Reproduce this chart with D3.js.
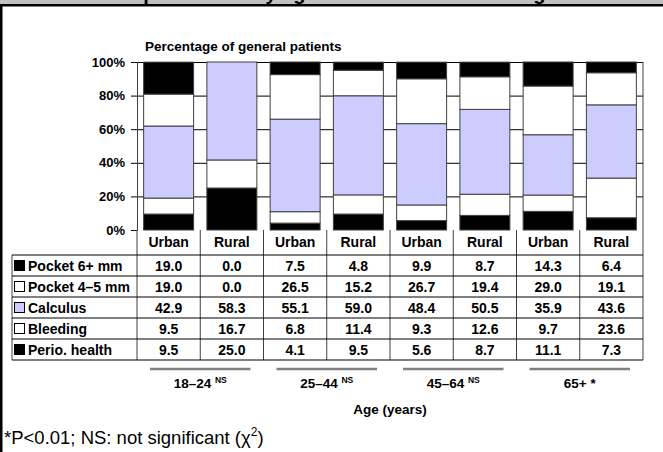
<!DOCTYPE html>
<html>
<head>
<meta charset="utf-8">
<script src="https://cdn.jsdelivr.net/npm/d3@7"></script>
<style>
  body { margin: 0; background: #fff; }
  text { font-family: 'Liberation Sans', Arial, sans-serif; }
</style>
</head>
<body>
<div id="chart"></div>
<script>
// categories
const settings = ['Urban', 'Rural', 'Urban', 'Rural', 'Urban', 'Rural', 'Urban', 'Rural']
const ageGroups = ['18–24', '25–44', '45–64', '65+']
const groupMarks = ['NS', 'NS', 'NS', '*']

// series values (%), one per bar
const pocket6 = [19.0, 0.0, 7.5, 4.8, 9.9, 8.7, 14.3, 6.4]
const pocket45 = [19.0, 0.0, 26.5, 15.2, 26.7, 19.4, 29.0, 19.1]
const calculus = [42.9, 58.3, 55.1, 59.0, 48.4, 50.5, 35.9, 43.6]
const bleeding = [9.5, 16.7, 6.8, 11.4, 9.3, 12.6, 9.7, 23.6]
const perioHealth = [9.5, 25.0, 4.1, 9.5, 5.6, 8.7, 11.1, 7.3]

const seriesNames = ['Pocket 6+ mm', 'Pocket 4–5 mm', 'Calculus', 'Bleeding', 'Perio. health']
const yTicks = [0, 20, 40, 60, 80, 100]

const W = 663
const H = 452
const plotLeft = 137
const plotRight = 643
const plotTop = 62
const plotBottom = 230
const headerBottom = 255
const rowH = 21
const tableLeft = 12

const svg = d3
  .select('#chart')
  .append('svg')
  .attr('width', W)
  .attr('height', H)

// frame: grey title band (title mostly cut off), black rule, left border
svg.append('defs')
  .append('clipPath')
  .attr('id', 'titleClip')
  .append('rect')
  .attr('x', 0).attr('y', 0).attr('width', W).attr('height', 4)

svg.append('rect')
  .attr('x', 0).attr('y', 0).attr('width', W).attr('height', 4)
  .attr('fill', '#c0c0c0')

svg.append('g')
  .attr('clip-path', 'url(#titleClip)')
  .append('text')
  .attr('x', 62)
  .attr('y', -0.5)
  .attr('font-size', 20)
  .attr('font-weight', 'bold')
  .text('Disease prevalence by age and urban–rural setting')

svg.append('rect')
  .attr('x', 0).attr('y', 4).attr('width', W).attr('height', 2.5)
  .attr('fill', '#000')
svg.append('rect')
  .attr('x', 0).attr('y', 4).attr('width', 2.5).attr('height', H - 4)
  .attr('fill', '#000')

// scales
const rows = settings.map(function(s, i) {
  return {
    key: i,
    setting: s,
    perio: perioHealth[i],
    bleeding: bleeding[i],
    calculus: calculus[i],
    pocket45: pocket45[i],
    pocket6: pocket6[i]
  }
})

const xScale = d3
  .scaleBand()
  .domain(rows.map(d => d.key))
  .range([plotLeft, plotRight])
  .paddingInner(0.21)
  .paddingOuter(0.105)

const step = xScale.step()
const colLeft = i => plotLeft + i * step

const yScale = d3
  .scaleLinear()
  .domain([0, 100])
  .range([plotBottom, plotTop])

const keys = ['perio', 'bleeding', 'calculus', 'pocket45', 'pocket6']
const fills = {
  perio: '#000000',
  bleeding: '#ffffff',
  calculus: '#ccccff',
  pocket45: '#ffffff',
  pocket6: '#000000'
}

// subtitle
svg.append('text')
  .attr('x', 145)
  .attr('y', 51)
  .attr('font-size', 13.5)
  .attr('font-weight', 'bold')
  .text('Percentage of general patients')

// gridlines
svg.append('g')
  .attr('transform', `translate(${plotLeft},0)`)
  .call(
    d3.axisLeft(yScale)
      .tickValues(yTicks.slice(1))
      .tickSize(-(plotRight - plotLeft))
      .tickFormat('')
  )
  .call(g => g.select('.domain').remove())
  .selectAll('line')
  .attr('stroke', '#000')

// stacked bars
const stacked = d3.stack().keys(keys)(rows)

svg.append('g')
  .selectAll('g')
  .data(stacked)
  .enter()
  .append('g')
  .attr('fill', d => fills[d.key])
  .selectAll('rect')
  .data(d => d)
  .enter()
  .append('rect')
  .attr('x', d => xScale(d.data.key))
  .attr('width', xScale.bandwidth())
  .attr('y', d => yScale(d[1]))
  .attr('height', d => yScale(d[0]) - yScale(d[1]))
  .attr('stroke', '#404040')
  .attr('stroke-width', 1)

// y axis
const yAxis = svg.append('g')
  .attr('transform', `translate(${plotLeft},0)`)
  .call(
    d3.axisLeft(yScale)
      .tickValues(yTicks)
      .tickSize(6)
      .tickSizeOuter(0)
      .tickPadding(6)
      .tickFormat(d => d + '%')
  )
yAxis.select('.domain').attr('stroke', '#404040')
yAxis.selectAll('line').attr('stroke', '#000')
yAxis.selectAll('text')
  .attr('font-size', 13)
  .attr('font-weight', 'bold')
  .attr('fill', '#000')
  .style('font-family', "'Liberation Sans', Arial, sans-serif")

// data table
const tableBottom = headerBottom + rowH * seriesNames.length
const table = svg.append('g')

// vertical lines
table.selectAll('.vline')
  .data(d3.range(settings.length + 1))
  .enter()
  .append('line')
  .attr('x1', i => colLeft(i))
  .attr('x2', i => colLeft(i))
  .attr('y1', i => (i === settings.length ? plotTop : plotBottom))
  .attr('y2', tableBottom)
  .attr('stroke', '#404040')

table.append('line')
  .attr('x1', tableLeft).attr('x2', tableLeft)
  .attr('y1', headerBottom).attr('y2', tableBottom)
  .attr('stroke', '#404040')

// horizontal lines
table.selectAll('.hline')
  .data(d3.range(seriesNames.length + 1))
  .enter()
  .append('line')
  .attr('x1', tableLeft)
  .attr('x2', plotRight)
  .attr('y1', i => headerBottom + i * rowH)
  .attr('y2', i => headerBottom + i * rowH)
  .attr('stroke', '#000')

// header
table.selectAll('.head')
  .data(settings)
  .enter()
  .append('text')
  .attr('x', (d, i) => colLeft(i) + step / 2)
  .attr('y', 247)
  .attr('text-anchor', 'middle')
  .attr('font-size', 14)
  .attr('font-weight', 'bold')
  .text(d => d)

const tableSeries = [
  { name: seriesNames[0], values: pocket6, fill: fills.pocket6 },
  { name: seriesNames[1], values: pocket45, fill: fills.pocket45 },
  { name: seriesNames[2], values: calculus, fill: fills.calculus },
  { name: seriesNames[3], values: bleeding, fill: fills.bleeding },
  { name: seriesNames[4], values: perioHealth, fill: fills.perio }
]

tableSeries.forEach(function(s, r) {
  const cy = headerBottom + r * rowH + rowH / 2
  table.append('rect')
    .attr('x', 14.5)
    .attr('y', cy - 5)
    .attr('width', 10)
    .attr('height', 10)
    .attr('fill', s.fill)
    .attr('stroke', '#000')
  table.append('text')
    .attr('x', 28)
    .attr('y', cy + 5)
    .attr('font-size', 14)
    .attr('font-weight', 'bold')
    .text(s.name)
  s.values.forEach(function(v, i) {
    table.append('text')
      .attr('x', colLeft(i) + step / 2)
      .attr('y', cy + 5)
      .attr('text-anchor', 'middle')
      .attr('font-size', 14)
      .attr('font-weight', 'bold')
      .text(v.toFixed(1))
  })
})

// age group brackets
ageGroups.forEach(function(g, i) {
  const x0 = colLeft(i * 2) + 13
  const x1 = colLeft(i * 2 + 2) - 13
  svg.append('line')
    .attr('x1', x0).attr('x2', x1)
    .attr('y1', 369).attr('y2', 369)
    .attr('stroke', '#808080')
    .attr('stroke-width', 2.5)
  const t = svg.append('text')
    .attr('x', (x0 + x1) / 2)
    .attr('y', 388)
    .attr('text-anchor', 'middle')
    .attr('font-size', 13.5)
    .attr('font-weight', 'bold')
    .text(g + ' ')
  if (groupMarks[i] === '*') {
    t.append('tspan').text('*')
  } else {
    t.append('tspan')
      .attr('font-size', 8.5)
      .attr('dy', -5)
      .text(groupMarks[i])
  }
})

svg.append('text')
  .attr('x', (plotLeft + plotRight) / 2)
  .attr('y', 414)
  .attr('text-anchor', 'middle')
  .attr('font-size', 13.5)
  .attr('font-weight', 'bold')
  .text('Age (years)')

// footnote
const foot = svg.append('text')
  .attr('x', 4)
  .attr('y', 444)
  .attr('font-size', 18.5)
  .text('*P<0.01; NS: not significant (χ')
foot.append('tspan')
  .attr('font-size', 12)
  .attr('dy', -8)
  .text('2')
foot.append('tspan')
  .attr('dy', 8)
  .text(')')
</script>
</body>
</html>
